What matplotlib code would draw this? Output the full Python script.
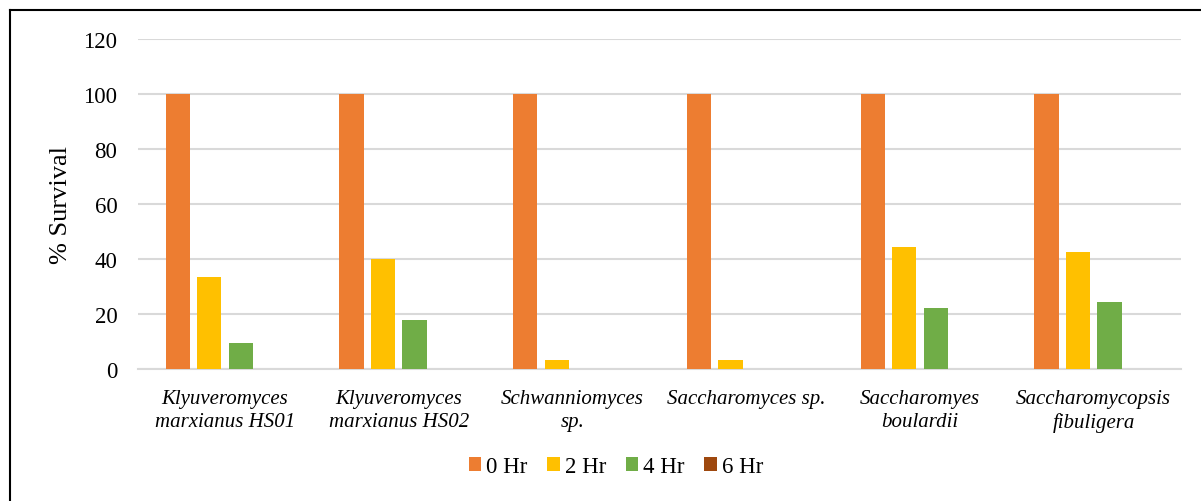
import matplotlib.pyplot as plt
import numpy as np
from matplotlib.lines import Line2D

plt.rcParams['font.family'] = ['Liberation Serif', 'DejaVu Serif']

strains = ["Klyuveromyces\nmarxianus HS01", "Klyuveromyces\nmarxianus HS02",
           "Schwanniomyces\nsp.", "Saccharomyces sp.",
           "Saccharomyes\nboulardii", "Saccharomycopsis\nfibuligera"]
hours = ["0 Hr", "2 Hr", "4 Hr", "6 Hr"]

hr0 = [100, 100, 100, 100, 100, 100]
hr2 = [33.7, 40.2, 3.3, 3.3, 44.5, 42.8]
hr4 = [9.7, 17.8, 0, 0, 22.2, 24.5]
hr6 = [0, 0, 0, 0, 0, 0]

colors = ["#ED7D31", "#FFC000", "#70AD47", "#9E480E"]

fig = plt.figure(figsize=(12.01, 5.02), dpi=100)
ax = fig.add_axes([0.115, 0.262, 0.868, 0.658])

x = np.arange(len(strains))
step = 0.181
width = 0.14
for i, (vals, c, lab) in enumerate(zip([hr0, hr2, hr4, hr6], colors, hours)):
    ax.bar(x + (i - 1.5) * step, vals, width, color=c, label=lab, zorder=3)

ax.set_xlim(-0.5, len(strains) - 0.5)
ax.set_ylim(0, 120)
ax.set_yticks(range(0, 121, 20))
ax.yaxis.grid(True, color="#D9D9D9", linewidth=1.5, zorder=0)
ax.set_axisbelow(True)
for s in ["top", "right", "left"]:
    ax.spines[s].set_visible(False)
ax.spines["bottom"].set_color("#D9D9D9")
ax.spines["bottom"].set_linewidth(1.5)
ax.tick_params(axis="y", length=0, labelsize=16.5, pad=15)
ax.set_xticks(x)
ax.set_xticklabels(strains, fontstyle="italic", fontsize=15, linespacing=1.3)
ax.tick_params(axis="x", length=0, pad=14)
ax.set_ylabel("% Survival", fontsize=19, labelpad=8)

# legend sits centred on the whole chart, below the category labels
handles, labels = ax.get_legend_handles_labels()
fig.legend(handles, labels, loc="center", bbox_to_anchor=(0.513, 1 - 468 / 502), ncol=4,
           frameon=False, fontsize=16.5, handlelength=0.55, handleheight=0.55,
           handletextpad=0.22, columnspacing=0.85)

# outer chart border
fig.add_artist(Line2D([10 / 1201, 10 / 1201], [0, 1 - 11 / 502], color="black", lw=1.5))
fig.add_artist(Line2D([10 / 1201, 1], [1 - 11 / 502, 1 - 11 / 502], color="black", lw=1.5))

fig.savefig("out.png", dpi=100)
